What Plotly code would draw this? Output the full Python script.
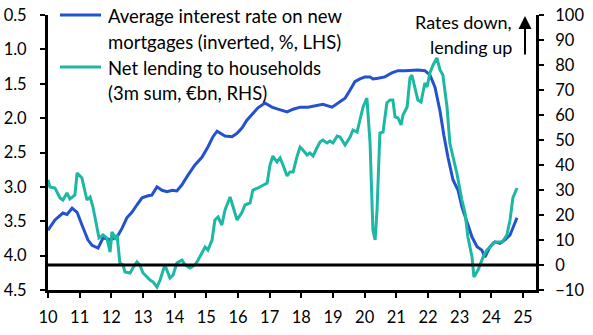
import plotly.graph_objects as go

# ---- Data ----
rate_dates = [2010.00, 2010.22, 2010.47, 2010.60, 2010.76, 2010.92, 2011.07, 2011.26, 2011.39, 2011.58,
              2011.74, 2011.96, 2012.18, 2012.34, 2012.49, 2012.65, 2012.81, 2012.97, 2013.16, 2013.28,
              2013.44, 2013.60, 2013.76, 2013.92, 2014.07, 2014.23, 2014.42, 2014.64, 2014.86, 2015.05,
              2015.21, 2015.34, 2015.59, 2015.81, 2015.97, 2016.13, 2016.28, 2016.44, 2016.63, 2016.85,
              2017.07, 2017.26, 2017.55, 2017.74, 2017.96, 2018.21, 2018.43, 2018.68, 2018.97, 2019.16,
              2019.38, 2019.54, 2019.69, 2019.85, 2020.01, 2020.17, 2020.26, 2020.42, 2020.64, 2020.86,
              2021.05, 2021.27, 2021.49, 2021.68, 2021.90, 2022.06, 2022.22, 2022.38, 2022.50, 2022.63,
              2022.79, 2022.95, 2023.07, 2023.23, 2023.39, 2023.55, 2023.70, 2023.80, 2023.96, 2024.11,
              2024.27, 2024.43, 2024.59, 2024.81]
rate_values = [3.63, 3.48, 3.38, 3.40, 3.31, 3.37, 3.55, 3.77, 3.85, 3.89,
               3.74, 3.77, 3.73, 3.60, 3.45, 3.37, 3.26, 3.16, 3.13, 3.12,
               3.00, 3.05, 3.07, 3.05, 3.06, 2.97, 2.83, 2.68, 2.57, 2.42,
               2.27, 2.19, 2.26, 2.27, 2.22, 2.14, 2.03, 1.95, 1.85, 1.78,
               1.84, 1.87, 1.91, 1.87, 1.84, 1.84, 1.82, 1.80, 1.84, 1.78,
               1.71, 1.59, 1.47, 1.43, 1.40, 1.40, 1.43, 1.42, 1.40, 1.34,
               1.31, 1.31, 1.30, 1.30, 1.31, 1.37, 1.55, 1.90, 2.25, 2.57,
               2.90, 3.05, 3.29, 3.51, 3.73, 3.87, 3.92, 4.02, 3.87, 3.80,
               3.82, 3.77, 3.70, 3.45]

lend_dates = [2010.00, 2010.06, 2010.22, 2010.38, 2010.47, 2010.60, 2010.69, 2010.85, 2010.92, 2011.07,
              2011.23, 2011.33, 2011.42, 2011.55, 2011.61, 2011.74, 2011.86, 2011.96, 2012.02, 2012.12,
              2012.18, 2012.27, 2012.37, 2012.43, 2012.59, 2012.68, 2012.81, 2012.90, 2013.00, 2013.13,
              2013.22, 2013.32, 2013.44, 2013.54, 2013.69, 2013.79, 2013.85, 2013.95, 2014.07, 2014.23,
              2014.33, 2014.48, 2014.64, 2014.74, 2014.86, 2014.96, 2015.05, 2015.18, 2015.27, 2015.37,
              2015.49, 2015.59, 2015.75, 2015.84, 2015.97, 2016.13, 2016.22, 2016.38, 2016.47, 2016.63,
              2016.79, 2016.92, 2017.01, 2017.10, 2017.23, 2017.33, 2017.42, 2017.55, 2017.64, 2017.74,
              2017.86, 2017.96, 2018.05, 2018.18, 2018.27, 2018.37, 2018.49, 2018.59, 2018.68, 2018.81,
              2018.90, 2019.00, 2019.13, 2019.22, 2019.38, 2019.54, 2019.63, 2019.76, 2019.85, 2019.95,
              2020.07, 2020.17, 2020.26, 2020.33, 2020.39, 2020.48, 2020.58, 2020.70, 2020.80, 2020.89,
              2020.96, 2021.05, 2021.15, 2021.21, 2021.34, 2021.43, 2021.49, 2021.59, 2021.68, 2021.78,
              2021.90, 2021.97, 2022.06, 2022.16, 2022.28, 2022.38, 2022.47, 2022.60, 2022.69, 2022.79,
              2022.91, 2023.07, 2023.17, 2023.26, 2023.39, 2023.45, 2023.58, 2023.74, 2023.86, 2023.96,
              2024.05, 2024.18, 2024.34, 2024.49, 2024.59, 2024.68, 2024.81]
lend_values = [34.0, 31.2, 30.8, 26.8, 26.0, 28.8, 26.4, 28.0, 36.8, 34.8,
               26.0, 27.2, 23.2, 15.2, 10.8, 12.0, 10.8, 5.2, 13.2, 10.8,
               12.0, 0.8, 0.0, -2.8, -3.2, -1.2, 1.2, 0.0, -3.2, -4.8,
               -6.0, -6.8, -8.8, -6.0, 0.0, -3.2, -5.2, -4.0, 0.8, 2.0,
               0.0, -1.2, 0.0, 2.0, 4.8, 7.2, 6.0, 10.0, 18.0, 19.2,
               16.0, 22.0, 27.2, 23.2, 18.0, 21.2, 24.0, 24.8, 30.0, 30.8,
               32.0, 32.8, 40.0, 43.6, 41.2, 42.8, 40.0, 35.6, 37.2, 37.2,
               43.2, 47.2, 46.0, 44.0, 44.8, 43.6, 46.8, 49.2, 50.0, 48.8,
               49.6, 48.8, 51.6, 51.2, 48.0, 51.2, 54.0, 53.2, 58.0, 63.2,
               66.8, 48.8, 14.0, 10.0, 22.0, 52.8, 53.2, 64.8, 66.0, 66.0,
               59.2, 58.8, 56.0, 60.0, 63.2, 74.8, 76.0, 71.2, 66.0, 65.2,
               72.8, 71.2, 76.8, 80.0, 82.8, 78.0, 76.0, 63.2, 48.8, 43.2,
               36.8, 26.0, 20.8, 11.2, 3.2, -4.8, -2.0, 3.2, 6.0, 7.2,
               8.8, 9.2, 9.2, 12.0, 18.0, 26.8, 30.8]

x_ticks = list(range(2010, 2026))
x_labels = [str(y % 100) for y in x_ticks]
left_ticks = [0.5, 1.0, 1.5, 2.0, 2.5, 3.0, 3.5, 4.0, 4.5]
right_ticks = list(range(-10, 101, 10))

BLUE = "#2452CF"
TEAL = "#1CB8A3"
FONT = "Lato"

fig = go.Figure()
fig.add_trace(go.Scatter(x=rate_dates, y=rate_values, mode="lines",
                         line=dict(color=BLUE, width=3), yaxis="y", showlegend=False))
fig.add_trace(go.Scatter(x=lend_dates, y=lend_values, mode="lines",
                         line=dict(color=TEAL, width=3), yaxis="y2", showlegend=False))

axis_common = dict(showgrid=False, zeroline=False, showline=True, linecolor="black",
                   linewidth=3, ticks="outside", ticklen=5, tickwidth=2, tickcolor="black",
                   automargin=False,
                   tickfont=dict(family=FONT, size=16.5, color="black"))

fig.update_layout(
    width=593, height=335,
    margin=dict(l=48, r=57, t=15, b=45),
    paper_bgcolor="white", plot_bgcolor="white",
    xaxis=dict(range=[2010, 2025.41], tickvals=x_ticks, ticktext=x_labels,
               ticklabelstandoff=5, **axis_common),
    yaxis=dict(range=[4.5, 0.5], tickvals=left_ticks, tickformat=".1f",
               ticklabelstandoff=10, **axis_common),
    yaxis2=dict(range=[-10, 100], tickvals=right_ticks, overlaying="y", side="right",
                ticklabelstandoff=8, **axis_common),
    showlegend=False,
)

# zero line on RHS
fig.add_shape(type="line", xref="paper", x0=0, x1=1, yref="y2", y0=0, y1=0,
              line=dict(color="black", width=3))

# legend (manual)
def px_x(p):
    return (p - 48) / 488.0

def px_y(p):
    return (290 - p) / 275.0

fig.add_shape(type="line", xref="paper", yref="paper", x0=px_x(60), x1=px_x(101),
              y0=px_y(15), y1=px_y(15), line=dict(color=BLUE, width=3))
fig.add_shape(type="line", xref="paper", yref="paper", x0=px_x(60), x1=px_x(101),
              y0=px_y(67), y1=px_y(67), line=dict(color=TEAL, width=3))

legend_lines = [("Average interest rate on new", 16), ("mortgages (inverted, %, LHS)", 42),
                ("Net lending to households", 68), ("(3m sum, €bn, RHS)", 93)]
for txt, py in legend_lines:
    fig.add_annotation(text=txt, xref="paper", yref="paper", x=px_x(106), y=px_y(py),
                       xanchor="left", yanchor="middle", showarrow=False,
                       font=dict(family=FONT, size=18.5, color="black"))

for txt, py in [("Rates down,", 22), ("lending up", 47)]:
    fig.add_annotation(text=txt, xref="paper", yref="paper", x=px_x(514), y=px_y(py),
                       xanchor="right", yanchor="middle", showarrow=False,
                       font=dict(family=FONT, size=18, color="black"))

fig.add_annotation(text="", xref="paper", yref="paper", x=px_x(525), y=px_y(16),
                   ax=0, ay=40, showarrow=True, arrowhead=2, arrowsize=1.3,
                   arrowwidth=2, arrowcolor="black")

fig.write_html("out.html")
